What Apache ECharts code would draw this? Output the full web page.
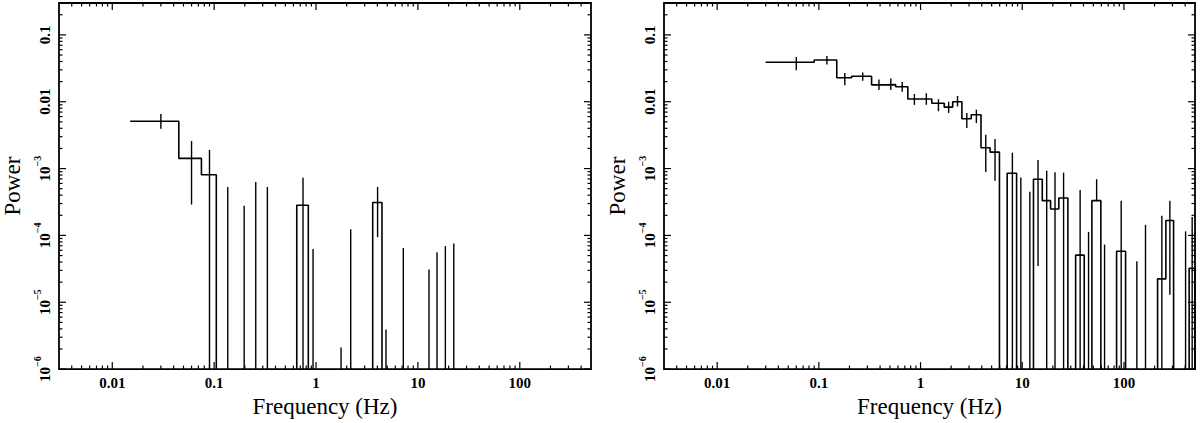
<!DOCTYPE html>
<html><head><meta charset="utf-8">
<script src="https://cdn.jsdelivr.net/npm/echarts@6/dist/echarts.min.js"></script>
<style>html,body{margin:0;padding:0;background:#fff}#c{width:1200px;height:423px}</style>
</head><body><div id="c"></div>
<script>
// ---------- axis ticks / labels ----------
const xTickValues = [0.01, 0.1, 1, 10, 100];
const xTickLabels = ['0.01', '0.1', '1', '10', '100'];
const yTickValues = [1e-6, 1e-5, 1e-4, 1e-3, 0.01, 0.1];
const yTickLabels = ['10|−6', '10|−5', '10|−4', '10|−3', '0.01', '0.1'];
const X_MIN = 0.003, X_MAX = 500, Y_MIN = 1e-6, Y_MAX = 0.3;

// ---------- left panel ----------
const leftBinLo = [0.015, 0.045, 0.075, 0.647, 3.60];
const leftBinHi = [0.045, 0.075, 0.105, 0.84, 4.44];
const leftPower = [5.1e-3, 1.42e-3, 8.1e-4, 2.83e-4, 3.1e-4];
const leftErrFreq = [0.030, 0.060, 0.090, 0.136, 0.197, 0.256, 0.333, 0.745, 0.935, 1.76, 2.19, 4.02, 4.86, 7.19, 12.85, 15.4, 18.6, 22.5];
const leftErrTop  = [6.56e-3, 2.58e-3, 1.9e-3, 5.3e-4, 2.77e-4, 6.3e-4, 5.3e-4, 7.26e-4, 6.28e-5, 2.1e-6, 1.24e-4, 5.3e-4, 3.9e-6, 6.5e-5, 3.1e-5, 5.6e-5, 6.95e-5, 7.6e-5];
const leftErrBot  = [3.94e-3, 2.9e-4, null, null, null, null, null, null, null, null, null, 9.4e-5, null, null, null, null, null, null];

// ---------- right panel ----------
const rightBinLo = [0.03, 0.09, 0.15, 0.21, 0.33, 0.45, 0.57, 0.75, 0.99, 1.29, 1.71, 2.07, 2.55, 3.15, 3.93, 4.83, 7.11, 12.9, 15.74, 19.0, 22.9, 33.5, 48.4, 84.7, 214.3, 258.6, 438];
const rightBinHi = [0.09, 0.15, 0.21, 0.33, 0.45, 0.57, 0.75, 0.99, 1.29, 1.71, 2.07, 2.55, 3.15, 3.93, 4.83, 5.97, 8.80, 15.74, 19.0, 22.9, 28.1, 40.7, 59.3, 103.8, 258.6, 307.9, 500];
const rightPower = [0.0389, 0.0421, 0.0228, 0.0241, 0.0179, 0.0180, 0.01675, 0.0110, 0.0110, 0.0095, 0.0083, 0.0100, 0.00556, 0.00637, 0.00205, 0.00176, 8.5e-4, 6.94e-4, 3.31e-4, 2.49e-4, 3.63e-4, 5.07e-5, 3.31e-4, 5.8e-5, 2.24e-5, 1.67e-4, 3.22e-5];
const rightErrFreq = [0.06, 0.12, 0.18, 0.27, 0.39, 0.51, 0.66, 0.87, 1.14, 1.50, 1.89, 2.31, 2.85, 3.54, 4.38, 5.40,
  8.0, 9.69, 11.88, 14.3, 17.4, 21.0, 25.5, 37.1, 44.9, 53.9, 64.5, 94, 134, 163, 236, 283, 404, 469];
const rightErrTop = [0.0466, 0.0482, 0.027, 0.0274, 0.0216, 0.0223, 0.0198, 0.01306, 0.0134, 0.0109, 0.0100, 0.0122, 0.0068, 0.0076, 0.00322, 0.00278,
  1.73e-3, 7.36e-4, 4.5e-4, 1.34e-3, 9.3e-4, 8.8e-4, 8.7e-4, 4.77e-4, 1.13e-4, 6.94e-4, 7.3e-5, 3.31e-4, 4.1e-5, 1.44e-4, 1.97e-4, 3.31e-4, 1.15e-4, 1.88e-4];
const rightErrBot = [0.0296, 0.036, 0.0177, 0.0206, 0.0150, 0.0150, 0.0141, 0.00897, 0.0090, 0.0072, 0.0068, 0.0085, 0.00404, 0.0048, 8.9e-4, 6.55e-4,
  null, null, null, 3.5e-5, null, null, null, null, null, 3.31e-4, null, null, null, null, null, 1.3e-5, null, null];

// ---------- helpers ----------
const FLOOR = 1e-8; // below the axis: the step falls out of the plot
function stepPoints(lo, hi, p) {
  const pts = [];
  for (let i = 0; i < lo.length; i++) {
    const contiguous = i > 0 && Math.abs(lo[i] / hi[i - 1] - 1) < 1e-6;
    if (i > 0 && !contiguous) { pts.push([hi[i - 1], FLOOR]); pts.push([lo[i], FLOOR]); }
    pts.push([lo[i], p[i]]); pts.push([hi[i], p[i]]);
  }
  pts.push([hi[hi.length - 1], FLOOR]);
  return pts;
}
function minorTicks(minV, maxV) {
  const out = [];
  for (let e = -8; e <= 4; e++) for (let m = 2; m <= 9; m++) {
    const v = m * Math.pow(10, e);
    if (v > minV * 1.0001 && v < maxV * 0.9999) out.push(v);
  }
  return out;
}
function findLabel(v, vals, labels) {
  for (let i = 0; i < vals.length; i++) if (Math.abs(v / vals[i] - 1) < 1e-6) return labels[i];
  return null;
}
const SERIF = '"Liberation Serif", "DejaVu Serif", serif';
const LW = 1.6;

function errSeries(gi, freq, top, bot) {
  return {
    type: 'custom', xAxisIndex: gi, yAxisIndex: gi, z: 5, clip: true,
    data: freq.map((f, i) => [f, top[i], bot[i] == null ? 0 : bot[i]]),
    renderItem(params, api) {
      const cs = params.coordSys;
      const f = api.value(0), t = api.value(1), b = api.value(2);
      const pt = api.coord([f, t]);
      const yB = b > 0 ? api.coord([f, b])[1] : cs.y + cs.height;
      return { type: 'line', shape: { x1: pt[0], y1: pt[1], x2: pt[0], y2: yB }, style: { stroke: '#000', lineWidth: 1.4 } };
    }
  };
}
function xTickSeries(gi, vals, len) {
  return {
    type: 'custom', xAxisIndex: gi, yAxisIndex: gi, z: 6, silent: true,
    data: vals.map(v => [v, Y_MIN]),
    renderItem(params, api) {
      const cs = params.coordSys;
      const x = api.coord([api.value(0), Y_MIN])[0];
      const b = cs.y + cs.height, t = cs.y;
      return { type: 'group', children: [
        { type: 'line', shape: { x1: x, y1: b, x2: x, y2: b - len }, style: { stroke: '#000', lineWidth: 1.2 } },
        { type: 'line', shape: { x1: x, y1: t, x2: x, y2: t + len }, style: { stroke: '#000', lineWidth: 1.2 } }
      ]};
    }
  };
}
function yTickSeries(gi, vals, len) {
  return {
    type: 'custom', xAxisIndex: gi, yAxisIndex: gi, z: 6, silent: true,
    data: vals.map(v => [X_MIN, v]),
    renderItem(params, api) {
      const cs = params.coordSys;
      const y = api.coord([X_MIN, api.value(1)])[1];
      const l = cs.x, r = cs.x + cs.width;
      return { type: 'group', children: [
        { type: 'line', shape: { x1: l, y1: y, x2: l + len, y2: y }, style: { stroke: '#000', lineWidth: 1.2 } },
        { type: 'line', shape: { x1: r, y1: y, x2: r - len, y2: y }, style: { stroke: '#000', lineWidth: 1.2 } }
      ]};
    }
  };
}
function xAxisDef(gi) {
  return {
    type: 'log', gridIndex: gi, min: X_MIN, max: X_MAX, logBase: 10,
    axisLine: { show: false }, axisTick: { show: false }, splitLine: { show: false }, minorTick: { show: false },
    name: 'Frequency (Hz)', nameLocation: 'middle', nameGap: 16,
    nameTextStyle: { fontFamily: SERIF, fontSize: 23, color: '#000' },
    axisLabel: {
      show: true, margin: 6, color: '#000', fontFamily: SERIF, fontWeight: 'bold', fontSize: 15,
      showMinLabel: true, showMaxLabel: true, hideOverlap: false,
      formatter: v => findLabel(v, xTickValues, xTickLabels) || ''
    }
  };
}
function yAxisDef(gi) {
  return {
    type: 'log', gridIndex: gi, min: Y_MIN, max: Y_MAX, logBase: 10,
    axisLine: { show: false }, axisTick: { show: false }, splitLine: { show: false }, minorTick: { show: false },
    name: 'Power', nameLocation: 'middle', nameGap: 35,
    nameTextStyle: { fontFamily: SERIF, fontSize: 23, color: '#000' },
    axisLabel: {
      show: true, rotate: 90, margin: 7, color: '#000', fontFamily: SERIF, fontWeight: 'bold', fontSize: 15,
      showMinLabel: true, showMaxLabel: true, hideOverlap: false,
      formatter: v => {
        const s = findLabel(v, yTickValues, yTickLabels);
        if (!s) return '';
        if (s.indexOf('|') >= 0) { const p = s.split('|'); return '{b|' + p[0] + '}{s|' + p[1] + '}'; }
        return s;
      },
      rich: {
        b: { fontFamily: SERIF, fontWeight: 'bold', fontSize: 15, color: '#000', verticalAlign: 'bottom', lineHeight: 20 },
        s: { fontFamily: SERIF, fontWeight: 'bold', fontSize: 10, color: '#000', verticalAlign: 'top', lineHeight: 20 }
      }
    }
  };
}

const xMinor = minorTicks(X_MIN, X_MAX), yMinor = minorTicks(Y_MIN, Y_MAX);
const series = [];
[[leftBinLo, leftBinHi, leftPower, leftErrFreq, leftErrTop, leftErrBot],
 [rightBinLo, rightBinHi, rightPower, rightErrFreq, rightErrTop, rightErrBot]].forEach((d, gi) => {
  series.push({
    type: 'line', xAxisIndex: gi, yAxisIndex: gi, data: stepPoints(d[0], d[1], d[2]), clip: true,
    showSymbol: false, symbol: 'none', lineStyle: { color: '#000', width: LW }, animation: false, z: 4
  });
  series.push(errSeries(gi, d[3], d[4], d[5]));
  series.push(xTickSeries(gi, xTickValues, 7));
  series.push(xTickSeries(gi, xMinor, 3.5));
  series.push(yTickSeries(gi, yTickValues, 7));
  series.push(yTickSeries(gi, yMinor, 3.5));
});

const chart = echarts.init(document.getElementById('c'), null, { renderer: 'svg' });
chart.setOption({
  animation: false,
  backgroundColor: '#fff',
  grid: [
    { left: 58, top: 2, width: 533, height: 370.5, show: true, borderColor: '#000', borderWidth: 1.8, backgroundColor: 'transparent' },
    { left: 664, top: 2, width: 531, height: 370, show: true, borderColor: '#000', borderWidth: 1.8, backgroundColor: 'transparent' }
  ],
  xAxis: [xAxisDef(0), xAxisDef(1)],
  yAxis: [yAxisDef(0), yAxisDef(1)],
  series: series
});
</script></body></html>
